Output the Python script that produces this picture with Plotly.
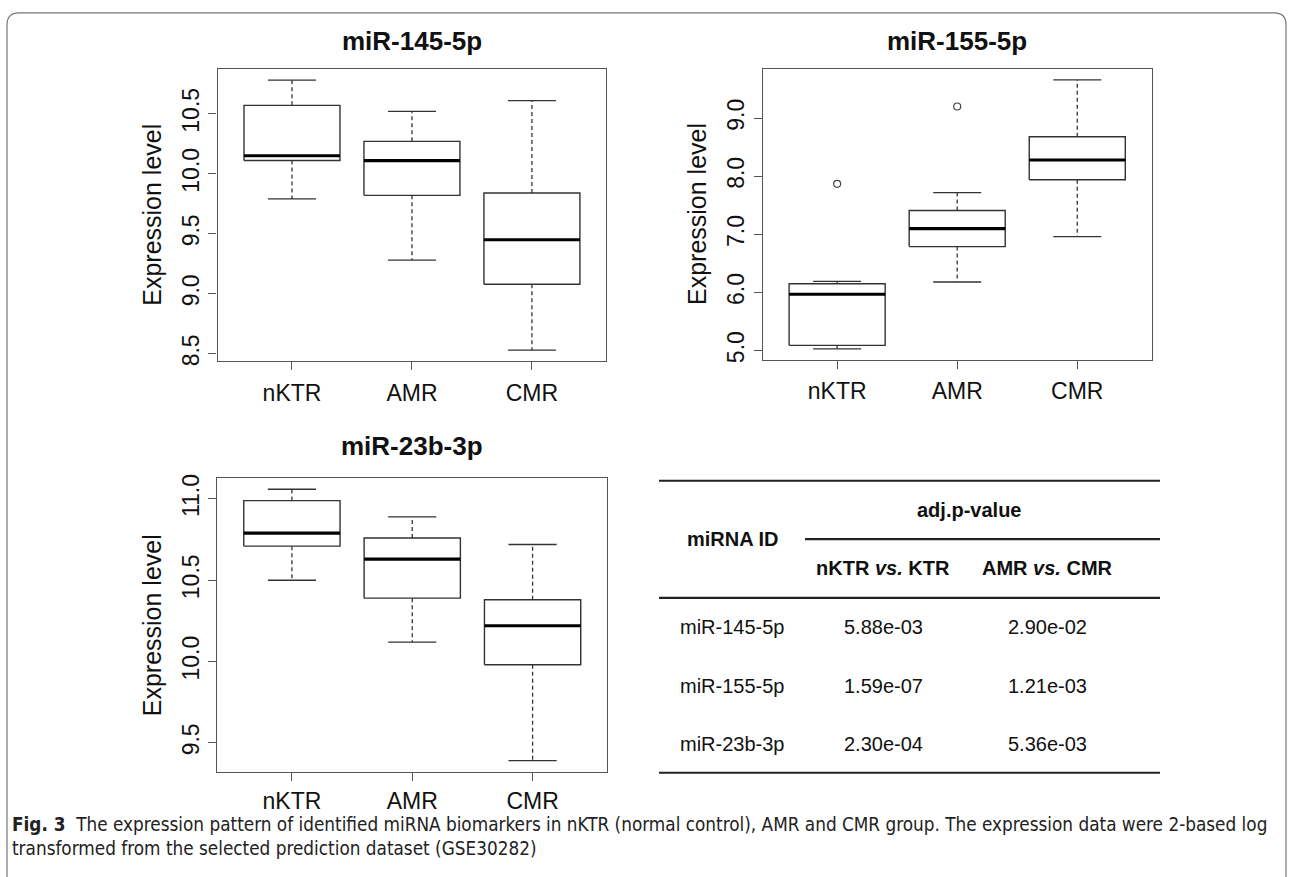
import plotly.graph_objects as go

W, H = 1289, 877

categories = ["nKTR", "AMR", "CMR"]

# miR-145-5p
m145_lower = [9.79, 9.28, 8.53]
m145_q1 = [10.11, 9.82, 9.08]
m145_median = [10.15, 10.11, 9.45]
m145_q3 = [10.57, 10.27, 9.84]
m145_upper = [10.78, 10.52, 10.61]
m145_outliers = [[], [], []]

# miR-155-5p
m155_lower = [5.03, 6.18, 6.96]
m155_q1 = [5.09, 6.79, 7.94]
m155_median = [5.97, 7.10, 8.28]
m155_q3 = [6.15, 7.41, 8.68]
m155_upper = [6.19, 7.72, 9.66]
m155_outliers = [[7.87], [9.20], []]

# miR-23b-3p
m23_lower = [10.50, 10.12, 9.39]
m23_q1 = [10.71, 10.39, 9.98]
m23_median = [10.79, 10.63, 10.22]
m23_q3 = [10.99, 10.76, 10.38]
m23_upper = [11.06, 10.89, 10.72]
m23_outliers = [[], [], []]

titles = ["miR-145-5p", "miR-155-5p", "miR-23b-3p"]
y_ticks_145 = [8.5, 9.0, 9.5, 10.0, 10.5]
y_ticks_155 = [5.0, 6.0, 7.0, 8.0, 9.0]
y_ticks_23 = [9.5, 10.0, 10.5, 11.0]

table_ids = ["miR-145-5p", "miR-155-5p", "miR-23b-3p"]
p_nktr_ktr = ["5.88e-03", "1.59e-07", "2.30e-04"]
p_amr_cmr = ["2.90e-02", "1.21e-03", "5.36e-03"]

caption_bold = "Fig. 3"
caption_l1 = "The expression pattern of identified miRNA biomarkers in nKTR (normal control), AMR and CMR group. The expression data were 2-based log"
caption_l2 = "transformed from the selected prediction dataset (GSE30282)"


def px(x):
    return x / W


def py(y):
    return 1 - y / H


FONT = "Liberation Sans, Arial, sans-serif"
BOX_C = "#333333"
FRAME_C = "#555555"

panels = [
    dict(data=(m145_lower, m145_q1, m145_median, m145_q3, m145_upper, m145_outliers),
         ticks=y_ticks_145, xd=(217.6, 606.3), yd=(66.0, 360.7), title=titles[0], ty=37),
    dict(data=(m155_lower, m155_q1, m155_median, m155_q3, m155_upper, m155_outliers),
         ticks=y_ticks_155, xd=(762.7, 1151.7), yd=(65.7, 359.3), title=titles[1], ty=37),
    dict(data=(m23_lower, m23_q1, m23_median, m23_q3, m23_upper, m23_outliers),
         ticks=y_ticks_23, xd=(217.3, 607.2), yd=(479.3, 775.5), title=titles[2], ty=447),
]

fig = go.Figure()
layout = dict(
    width=W, height=H, margin=dict(l=0, r=0, t=0, b=0),
    paper_bgcolor="white", plot_bgcolor="white", showlegend=False,
    font=dict(family=FONT, color="#111111"),
)
annotations = []
shapes = []

half_box = 0.4
half_cap = 0.2

for k, p in enumerate(panels):
    sfx = "" if k == 0 else str(k + 1)
    xa, ya = "x" + sfx, "y" + sfx
    lower, q1, med, q3, upper, outs = p["data"]
    for i in range(len(categories)):
        c = i + 1
        fig.add_trace(go.Scatter(
            x=[c - half_box, c + half_box, c + half_box, c - half_box, c - half_box],
            y=[q1[i], q1[i], q3[i], q3[i], q1[i]],
            mode="lines", line=dict(color=BOX_C, width=1.4),
            fill="toself", fillcolor="white", xaxis=xa, yaxis=ya, hoverinfo="skip"))
        fig.add_trace(go.Scatter(
            x=[c, c, None, c, c], y=[q3[i], upper[i], None, q1[i], lower[i]],
            mode="lines", line=dict(color=BOX_C, width=1.3, dash="4px,3px"),
            xaxis=xa, yaxis=ya, hoverinfo="skip"))
        fig.add_trace(go.Scatter(
            x=[c - half_cap, c + half_cap, None, c - half_cap, c + half_cap],
            y=[upper[i], upper[i], None, lower[i], lower[i]],
            mode="lines", line=dict(color=BOX_C, width=1.3),
            xaxis=xa, yaxis=ya, hoverinfo="skip"))
        fig.add_trace(go.Scatter(
            x=[c - half_box, c + half_box], y=[med[i], med[i]],
            mode="lines", line=dict(color="black", width=3.2),
            xaxis=xa, yaxis=ya, hoverinfo="skip"))
        if outs[i]:
            fig.add_trace(go.Scatter(
                x=[c] * len(outs[i]), y=outs[i], mode="markers",
                marker=dict(symbol="circle-open", size=7, color="#444444",
                            line=dict(width=1.2, color="#444444")),
                xaxis=xa, yaxis=ya, hoverinfo="skip"))

    allv = lower + upper + [v for o in outs for v in o]
    lo, hi = min(allv), max(allv)
    pad = 0.04 * (hi - lo)
    layout["xaxis" + sfx] = dict(
        domain=[px(p["xd"][0]), px(p["xd"][1])], range=[0.38, 3.62],
        anchor=ya, tickmode="array", tickvals=[1, 2, 3], ticktext=categories,
        ticks="outside", ticklen=8, tickwidth=1.2, tickcolor=FRAME_C,
        showline=True, linecolor=FRAME_C, linewidth=1.3, mirror=True,
        showgrid=False, zeroline=False, tickfont=dict(size=23, family=FONT, color="#111111"),
        ticklabelstandoff=(1 if k == 2 else 3))
    layout["yaxis" + sfx] = dict(
        domain=[py(p["yd"][1]), py(p["yd"][0])], range=[lo - pad, hi + pad],
        anchor=xa, tickmode="array", tickvals=p["ticks"],
        ticktext=["%.1f" % t for t in p["ticks"]], tickangle=-90,
        ticks="outside", ticklen=8, tickwidth=1.2, tickcolor=FRAME_C,
        showline=True, linecolor=FRAME_C, linewidth=1.3, mirror=True,
        showgrid=False, zeroline=False, tickfont=dict(size=23, family=FONT, color="#111111"))

    cx = (p["xd"][0] + p["xd"][1]) / 2
    cy = (p["yd"][0] + p["yd"][1]) / 2
    annotations.append(dict(
        x=px(p["xd"][0] - 65), y=py(cy), xref="paper", yref="paper",
        text="Expression level", textangle=-90, showarrow=False,
        font=dict(size=25, family=FONT, color="#111111"), xanchor="center", yanchor="middle"))
    annotations.append(dict(
        x=px(cx), y=py(p["ty"]), xref="paper", yref="paper",
        text="<b>%s</b>" % p["title"], showarrow=False,
        font=dict(size=26, family=FONT, color="#111111"), xanchor="center", yanchor="middle"))

# ---- table ----
TL, TR = 659, 1160
line_c = "#222222"
for (x0, x1, y) in [(TL, TR, 481.7), (805, TR, 540.7), (TL, TR, 600), (TL, TR, 776.7)]:
    shapes.append(dict(type="line", xref="paper", yref="paper",
                       x0=px(x0), x1=px(x1), y0=py(y), y1=py(y),
                       line=dict(color=line_c, width=2.2)))

tf = dict(size=20, family=FONT, color="#111111")


def cell(xc, yc, txt):
    annotations.append(dict(x=px(xc), y=py(yc), xref="paper", yref="paper",
                            xanchor="center", yanchor="middle",
                            text=txt, showarrow=False, font=tf))


cell(969, 511.7, "<b>adj.p-value</b>")
cell(732, 540.7, "<b>miRNA ID</b>")
cell(883, 570, "<b>nKTR <i>vs.</i> KTR</b>")
cell(1047.7, 570, "<b>AMR <i>vs.</i> CMR</b>")
row_y = [629.3, 689, 747.7]
for r in range(len(table_ids)):
    cell(732, row_y[r], table_ids[r])
    cell(883, row_y[r], p_nktr_ktr[r])
    cell(1047.7, row_y[r], p_amr_cmr[r])

# ---- caption ----
CAP_FONT = "Liberation Sans Narrow, DejaVu Sans Condensed, Roboto Condensed, sans-serif"
annotations.append(dict(x=px(10), y=py(829), xref="paper", yref="paper", xanchor="left",
                        yanchor="middle", showarrow=False,
                        text="<b>%s</b>  %s" % (caption_bold, caption_l1),
                        font=dict(size=18.8, family=CAP_FONT, color="#222222")))
annotations.append(dict(x=px(10), y=py(853), xref="paper", yref="paper", xanchor="left",
                        yanchor="middle", showarrow=False, text=caption_l2,
                        font=dict(size=18.8, family=CAP_FONT, color="#222222")))

# ---- outer rounded border ----
L, T, R, B, rad = 7, 9, 1286, 885, 12
path = ("M {l},{b} L {l},{t2} Q {l},{t} {l2},{t} L {r2},{t} Q {r},{t} {r},{t2} L {r},{b}"
        ).format(l=px(L), b=py(B), t2=py(T + rad), t=py(T), l2=px(L + rad),
                 r2=px(R - rad), r=px(R))
shapes.append(dict(type="path", xref="paper", yref="paper", path=path,
                   line=dict(color="#777777", width=1.2)))

layout["annotations"] = annotations
layout["shapes"] = shapes
fig.update_layout(**layout)
fig.write_html("out.html", config={"displayModeBar": False},
               post_script="document.body.style.margin='0';document.body.style.overflow='hidden';")
